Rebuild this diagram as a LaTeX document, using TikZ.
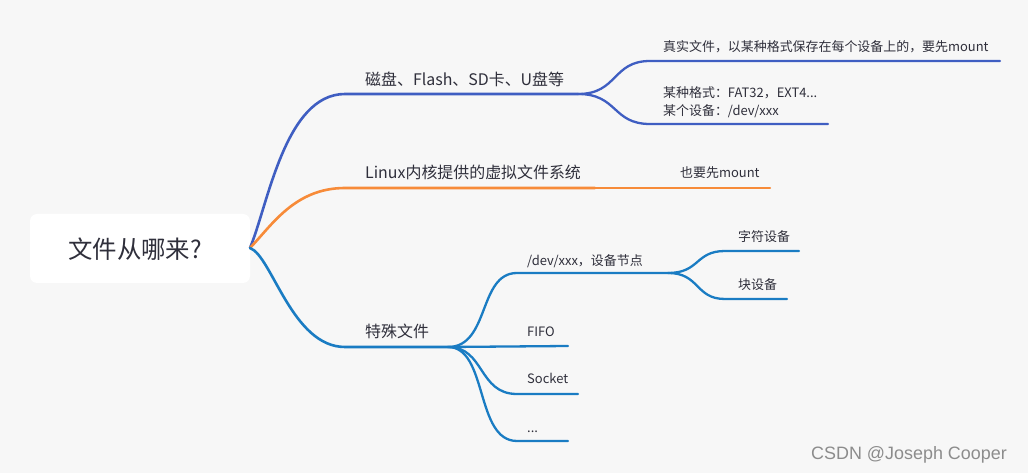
\documentclass[tikz,border=0pt]{standalone}
\usepackage{fontspec}
\setmainfont{Noto Sans CJK SC}
\newfontfamily\wmfont{Liberation Sans}
\usetikzlibrary{positioning}
\definecolor{bgc}{HTML}{F7F7F7}
\definecolor{txt}{HTML}{2F2F3B}
\definecolor{c1}{HTML}{3F5EC2}
\definecolor{c2}{HTML}{F78B39}
\definecolor{c3}{HTML}{1A7CC3}
\tikzstyle{root} = [fill=white, rounded corners=7bp]
\tikzstyle{main} = [anchor=base west, inner sep=0pt, text=txt, font=\fontsize{16}{19}\selectfont]
\tikzstyle{leaf} = [anchor=base west, inner sep=0pt, text=txt, font=\fontsize{13}{18}\selectfont, align=left]
\tikzstyle{br} = [line width=2.6bp, line cap=round]
\tikzstyle{sub} = [line width=2.3bp, line cap=round]

\begin{document}
\begin{tikzpicture}[x=1bp, y=-1bp]
  % 背景
  \fill[bgc] (0,0) rectangle (1028,473);
  \useasboundingbox (0,0) rectangle (1028,473);

  % 中心主题
  \fill[root] (30,214) rectangle (250,283);
  \node[anchor=west, inner sep=0pt, text=txt, font=\fontsize{24.5}{28}\selectfont] (q) at (68,249) {文件从哪来?};
  \coordinate (o) at (250,248);

  % 分支一
  \coordinate (d0) at (345,94);
  \coordinate (d1) at (578,94);
  \node[main] (disk) at (365,86) {磁盘、Flash、SD卡、U盘等};
  \coordinate (r0) at (650,61);
  \coordinate (r1) at (1000,61);
  \node[leaf] (real) at (663,52) {真实文件，以某种格式保存在每个设备上的，要先mount};
  \coordinate (f0) at (650,124);
  \coordinate (f1) at (828,124);
  \node[leaf] (fmt) at (663,98) {某种格式：FAT32，EXT4...};
  \node[leaf] (dev) at (663,116) {某个设备：/dev/xxx};
  \draw[br, c1] (o) .. controls (268,205) and (285,94) .. (d0) -- (d1);
  \draw[sub, c1] (d1) .. controls (618,94) and (612,61) .. (r0) -- (r1);
  \draw[sub, c1] (d1) .. controls (618,94) and (612,124) .. (f0) -- (f1);

  % 分支二
  \coordinate (v0) at (345,188);
  \coordinate (v1) at (595,188);
  \coordinate (v2) at (770,188);
  \node[main] (vfs) at (365,179) {Linux内核提供的虚拟文件系统};
  \node[leaf] (mnt) at (680,178) {也要先mount};
  \draw[br, c2] (o) .. controls (272,225) and (295,188) .. (v0) -- (v1);
  \draw[sub, c2] (v1) -- (v2);

  % 分支三
  \coordinate (s0) at (345,347);
  \coordinate (s1) at (448,347);
  \node[main] (spec) at (365,338) {特殊文件};
  \draw[br, c3] (o) .. controls (272,256) and (292,347) .. (s0) -- (s1);

  \coordinate (n0) at (517,273);
  \coordinate (n1) at (668,273);
  \node[leaf] (node) at (527,266) {/dev/xxx，设备节点};
  \draw[sub, c3] (s1) .. controls (490,347) and (478,273) .. (n0) -- (n1);

  \coordinate (ch0) at (725,251);
  \coordinate (ch1) at (799,251);
  \node[leaf] (chr) at (738,242) {字符设备};
  \draw[sub, c3] (n1) .. controls (700,273) and (695,251) .. (ch0) -- (ch1);
  \coordinate (bl0) at (725,299);
  \coordinate (bl1) at (787,299);
  \node[leaf] (blk) at (738,290) {块设备};
  \draw[sub, c3] (n1) .. controls (700,273) and (695,299) .. (bl0) -- (bl1);

  \coordinate (fi1) at (568,346);
  \node[leaf] (fifo) at (527,337) {FIFO};
  \draw[sub, c3] (s1) -- (fi1);

  \coordinate (so0) at (517,394);
  \coordinate (so1) at (578,394);
  \node[leaf] (sock) at (527,384) {Socket};
  \draw[sub, c3] (s1) .. controls (485,347) and (478,394) .. (so0) -- (so1);

  \coordinate (et0) at (517,441);
  \coordinate (et1) at (568,441);
  \node[leaf] (etc) at (527,432) {...};
  \draw[sub, c3] (s1) .. controls (488,347) and (475,441) .. (et0) -- (et1);

  % 水印
  \node[anchor=base west, inner sep=0pt, text=black!45, font=\wmfont\fontsize{18}{20}\selectfont] (wm) at (811,459) {CSDN @Joseph Cooper};
\end{tikzpicture}
\end{document}
